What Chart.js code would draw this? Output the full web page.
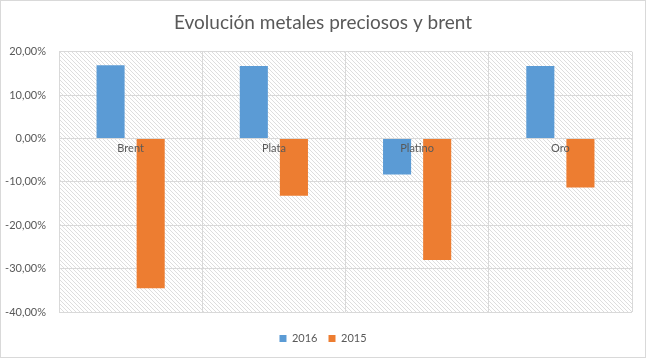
<!DOCTYPE html>
<html>
<head>
<meta charset="utf-8">
<script src="https://cdn.jsdelivr.net/npm/chart.js@4.4.0/dist/chart.umd.min.js"></script>
<style>
  html, body { margin: 0; padding: 0; background: #ffffff; }
  #wrap { width: 646px; height: 358px; position: relative; }
</style>
</head>
<body>
<div id="wrap"><canvas id="chart"></canvas></div>
<script>
// data (percent)
var categories = ['Brent', 'Plata', 'Platino', 'Oro'];
var values2016 = [16.9, 16.7, -8.3, 16.7];
var values2015 = [-34.5, -13.2, -28.0, -11.3];

var TEXT = '#595959', GRID = '#d9d9d9';
var FONT = 'Lato, "Noto Sans", sans-serif';

// diagonal hatch for the plot area
function hatchPattern(ctx){
  var tile = document.createElement('canvas');
  tile.width = 4; tile.height = 4;
  var t = tile.getContext('2d');
  t.fillStyle = '#dedede';
  for (var i = 0; i < 4; i++) t.fillRect(i, i, 1, 1);
  return ctx.createPattern(tile, 'repeat');
}

var backgroundPlugin = {
  id: 'bgHatch',
  beforeDraw: function(chart){
    var ctx = chart.ctx, a = chart.chartArea;
    ctx.save();
    ctx.fillStyle = hatchPattern(ctx);
    ctx.fillRect(a.left, a.top, a.right - a.left, a.bottom - a.top);
    ctx.restore();
  },
  afterDraw: function(chart){
    // outer frame of the chart
    var ctx = chart.ctx;
    ctx.save();
    ctx.strokeStyle = GRID;
    ctx.lineWidth = 1;
    ctx.strokeRect(0.5, 0.5, chart.width - 1, chart.height - 1);
    ctx.restore();
  }
};

// empty axes only used to reserve space (right margin, gap above legend)
var spacer = function(w, h){
  return {
    display: true,
    grid: { display: false },
    border: { display: false },
    ticks: { display: false },
    afterFit: function(s){ if (w !== null) s.width = w; if (h !== null) s.height = h; }
  };
};

var ctx = document.getElementById('chart').getContext('2d');
var chart = new Chart(ctx, {
  type: 'bar',
  data: {
    labels: categories,
    datasets: [
      { label: '2016', data: values2016, backgroundColor: '#5b9bd5', xAxisID: 'x', yAxisID: 'y' },
      { label: '2015', data: values2015, backgroundColor: '#ed7d31', xAxisID: 'x', yAxisID: 'y' }
    ]
  },
  options: {
    responsive: true,
    maintainAspectRatio: false,
    animation: false,
    categoryPercentage: 0.56,
    barPercentage: 0.7,
    layout: { padding: { left: 0, right: 0, top: 0, bottom: 4 } },
    plugins: {
      title: {
        display: true,
        text: 'Evolución metales preciosos y brent',
        color: TEXT,
        font: { family: FONT, size: 19, weight: 'normal' },
        padding: { top: 11, bottom: 18 }
      },
      legend: {
        position: 'bottom',
        labels: {
          color: TEXT,
          font: { family: FONT, size: 11 },
          boxWidth: 7,
          boxHeight: 7,
          padding: 11
        }
      },
      tooltip: { enabled: false }
    },
    scales: {
      x: {
        position: { y: 0 },
        grid: { color: GRID, drawTicks: false, offset: true },
        border: { color: GRID },
        ticks: { z: 1, color: TEXT, font: { family: FONT, size: 11 }, padding: 3 }
      },
      y: {
        min: -40,
        max: 20,
        afterFit: function(scale){ scale.width = 59; },
        grid: { color: GRID, drawTicks: false },
        border: { display: false },
        ticks: {
          stepSize: 10,
          color: TEXT,
          font: { family: FONT, size: 11 },
          padding: 13,
          callback: function(v){ return v.toFixed(2).replace('.', ',') + '%'; }
        }
      },
      xGap: Object.assign({ type: 'category', position: 'bottom' }, spacer(null, 10)),
      yGap: Object.assign({ type: 'linear', position: 'right' }, spacer(14, null))
    }
  },
  plugins: [backgroundPlugin]
});
</script>
</body>
</html>
